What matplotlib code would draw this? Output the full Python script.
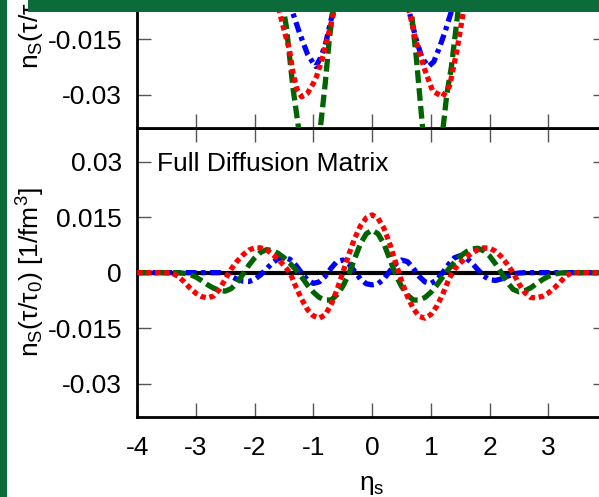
import matplotlib
matplotlib.use('Agg')
import matplotlib.pyplot as plt
from matplotlib.patches import Rectangle

plt.rcParams['font.family'] = ['Liberation Sans', 'DejaVu Sans']
plt.rcParams['font.size'] = 19
plt.rcParams['axes.unicode_minus'] = False
plt.rcParams['mathtext.fontset'] = 'custom'
plt.rcParams['mathtext.rm'] = 'Liberation Sans'
plt.rcParams['mathtext.it'] = 'Liberation Sans:italic'

# ---- bottom panel: full diffusion matrix ----
eta = [-4.0, -3.5, -3.4, -3.3, -3.2, -3.1, -3.0, -2.9, -2.8, -2.7, -2.6, -2.5, -2.4, -2.3,
       -2.2, -2.1, -2.0, -1.9, -1.8, -1.7, -1.6, -1.5, -1.4, -1.3, -1.2, -1.1, -1.0, -0.9,
       -0.8, -0.7, -0.6, -0.5, -0.4, -0.3, -0.2, -0.1, 0.0, 0.1, 0.2, 0.3, 0.4, 0.5, 0.6,
       0.7, 0.8, 0.9, 1.0, 1.1, 1.2, 1.3, 1.4, 1.5, 1.6, 1.7, 1.8, 1.9, 2.0, 2.1, 2.2, 2.3,
       2.4, 2.5, 2.6, 2.7, 2.8, 2.9, 3.0, 3.1, 3.2, 3.3, 3.4, 3.5, 4.0]

red_full = [0.0, 0.0, -0.0002, -0.0010, -0.0025, -0.0042, -0.0056, -0.0065, -0.0068, -0.0063,
            -0.0045, -0.0017, 0.0010, 0.0031, 0.0048, 0.0061, 0.0067, 0.0067, 0.0062, 0.0050,
            0.0036, 0.0019, 0.0, -0.0038, -0.0072, -0.0100, -0.0117, -0.0123, -0.0114, -0.0087,
            -0.0047, 0.0, 0.0048, 0.0092, 0.0126, 0.0148, 0.0156, 0.0147, 0.0120, 0.0078, 0.0027,
            -0.0022, -0.0064, -0.0097, -0.0118, -0.0123, -0.0113, -0.0091, -0.0059, -0.0020,
            0.0009, 0.0026, 0.0041, 0.0053, 0.0062, 0.0067, 0.0066, 0.0058, 0.0043, 0.0023,
            0.0, -0.0030, -0.0054, -0.0067, -0.0068, -0.0064, -0.0055, -0.0042, -0.0026, -0.0009,
            0.0, 0.0, 0.0]

green_full = [0.0, 0.0, 0.0, 0.0, -0.0002, -0.0005, -0.0012, -0.0022, -0.0033, -0.0042,
              -0.0048, -0.0050, -0.0043, -0.0027, -0.0004, 0.0020, 0.0040, 0.0055, 0.0062, 0.0060,
              0.0052, 0.0040, 0.0025, 0.0008, -0.0012, -0.0034, -0.0053, -0.0067, -0.0074, -0.0074,
              -0.0060, -0.0037, -0.0005, 0.0037, 0.0078, 0.0105, 0.0115, 0.0105, 0.0078, 0.0037,
              -0.0005, -0.0037, -0.0060, -0.0074, -0.0074, -0.0067, -0.0053, -0.0034, -0.0012,
              0.0009, 0.0028, 0.0044, 0.0056, 0.0064, 0.0066, 0.0059, 0.0045, 0.0024, 0.0, -0.0026,
              -0.0045, -0.0052, -0.0049, -0.0041, -0.0030, -0.0019, -0.0010, -0.0004, -0.0001, 0.0,
              0.0, 0.0, 0.0]

blue_full = [0.0, 0.0, 0.0, 0.0, 0.0, 0.0, 0.0, 0.0, 0.0, 0.0, 0.0, -0.0003, -0.0010, -0.0018,
             -0.0023, -0.0024, -0.0018, -0.0006, 0.0010, 0.0026, 0.0038, 0.0042, 0.0036, 0.0020,
             -0.0001, -0.0020, -0.0029, -0.0025, -0.0010, 0.0012, 0.0030, 0.0034, 0.0024, 0.0004,
             -0.0017, -0.0030, -0.0033, -0.0030, -0.0017, 0.0004, 0.0024, 0.0034, 0.0030, 0.0012,
             -0.0010, -0.0025, -0.0029, -0.0020, 0.0000, 0.0022, 0.0040, 0.0046, 0.0040, 0.0026,
             0.0008, -0.0009, -0.0019, -0.0021, -0.0017, -0.0010, -0.0004, -0.0001, 0.0, 0.0, 0.0,
             0.0, 0.0, 0.0, 0.0, 0.0, 0.0, 0.0, 0.0]

# ---- top panel (only the bottom part is visible) ----
eta_blue_top = [-1.5, -1.36, -1.24, -1.1, -1.0, -0.96, -0.88, -0.8, -0.67, -0.5, 0.0,
                0.5, 0.63, 0.75, 0.85, 0.96, 1.05, 1.15, 1.25, 1.35, 1.5]
blue_top = [0.0, -0.0074, -0.0131, -0.0190, -0.0215, -0.0223, -0.0200, -0.0166, -0.0076, 0.003, 0.03,
            0.003, -0.0074, -0.0150, -0.0200, -0.0223, -0.0210, -0.0170, -0.0125, -0.0074, 0.0]

eta_red_top = [-1.7, -1.58, -1.5, -1.41, -1.35, -1.28, -1.2, -1.1, -1.0, -0.95, -0.84, -0.75,
               -0.67, -0.6, -0.4, 0.0, 0.4, 0.55, 0.64, 0.75, 0.89, 1.03, 1.2, 1.32, 1.44,
               1.54, 1.6, 1.75]
red_top = [0.0, -0.0074, -0.0125, -0.0177, -0.0239, -0.0285, -0.0305, -0.0295, -0.0268, -0.0251,
           -0.0197, -0.0140, -0.0088, -0.004, 0.008, 0.03, 0.008, -0.003, -0.0080, -0.0156, -0.0229,
           -0.0289, -0.0305, -0.0275, -0.0183, -0.0088, -0.004, 0.0]

eta_green_top = [-1.6, -1.52, -1.46, -1.35, -1.27, -1.2, -1.05, -0.95, -0.89, -0.8, -0.73, -0.67,
                 -0.6, 0.0, 0.6, 0.67, 0.75, 0.86, 0.95, 1.05, 1.15, 1.2, 1.27, 1.35, 1.46, 1.55]
green_top = [0.0, -0.0060, -0.0117, -0.0279, -0.0371, -0.045, -0.052, -0.049, -0.040, -0.027,
             -0.015, -0.0075, -0.001, 0.03, -0.001, -0.0077, -0.0196, -0.039, -0.048, -0.050,
             -0.046, -0.040, -0.030, -0.0224, -0.0077, 0.0]

xticks = [-4, -3, -2, -1, 0, 1, 2, 3, 4]
yticks = [-0.03, -0.015, 0, 0.015, 0.03]
ytick_labels = ['-0.03', '-0.015', '0', '0.015', '0.03']
ylabel = r'n$_\mathrm{S}$(τ/τ$_\mathrm{0}$) [1/fm$^\mathrm{3}$]'

RED = '#ff0000'
GREEN = '#006400'
BLUE = '#0000ff'


def style_axes(ax):
    ax.set_xlim(-4, 4)
    ax.set_ylim(-0.039, 0.039)
    ax.set_xticks(xticks)
    ax.set_yticks(yticks)
    ax.set_yticklabels(ytick_labels)
    ax.tick_params(direction='in', top=True, right=True, length=10, width=1.0,
                   color='#555555', pad=11, labelsize=19)
    ax.tick_params(axis='x', pad=14)
    for s in ax.spines.values():
        s.set_linewidth(2.0)


def draw(ax, xb, yb, xg, yg, xr, yr):
    ax.axhline(0, color='black', lw=3.0, zorder=1)
    lb, = ax.plot(xb, yb, color=BLUE, lw=3.8, zorder=2)
    lb.set_dashes([2.0, 0.9, 0.8, 0.9])
    lg, = ax.plot(xg, yg, color=GREEN, lw=3.8, zorder=3)
    lg.set_dashes([2.4, 1.0])
    lr, = ax.plot(xr, yr, color=RED, lw=3.8, zorder=4)
    lr.set_dashes([1.0, 0.7])
    for l in (lb, lg, lr):
        l.set_dash_capstyle('butt')


fig = plt.figure(figsize=(5.99, 4.97), dpi=100)
left = 137.3 / 599
width = (607 - 137.3) / 599
h = (417 - 128.3) / 497
b0 = 80 / 497

ax_bot = fig.add_axes([left, b0, width, h])
ax_top = fig.add_axes([left, b0 + h, width, h])

draw(ax_top, eta_blue_top, blue_top, eta_green_top, green_top, eta_red_top, red_top)
draw(ax_bot, eta, blue_full, eta, green_full, eta, red_full)

style_axes(ax_top)
style_axes(ax_bot)
ax_top.tick_params(labelbottom=False)

ax_bot.text(-3.67, 0.03, 'Full Diffusion Matrix', ha='left', va='center_baseline', fontsize=19)
ax_bot.set_xlabel(r'η$_\mathrm{s}$', fontsize=19, labelpad=9)

# y labels, centred on each panel
fig.text(31 / 599, b0 + h / 2, ylabel, rotation=90, ha='center', va='center', fontsize=19)
fig.text(31 / 599, b0 + 1.5 * h, ylabel, rotation=90, ha='center', va='center', fontsize=19)

# green frame of the slide
border = '#0b6b3b'
fig.add_artist(Rectangle((0, 0), 7 / 599, 1, transform=fig.transFigure,
                         facecolor=border, edgecolor='none', zorder=10))
fig.add_artist(Rectangle((28 / 599, 1 - 12 / 497), 1, 12 / 497, transform=fig.transFigure,
                         facecolor=border, edgecolor='none', zorder=10))

fig.savefig('out.png', dpi=100)
